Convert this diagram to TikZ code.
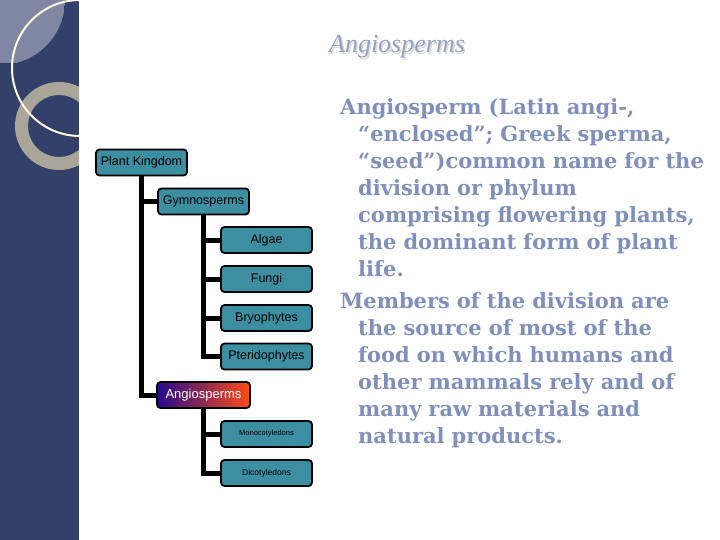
\documentclass[tikz,border=0pt]{standalone}
\usepackage{fontspec}
\usepackage{tikz}
\newfontfamily\boxfont{Liberation Sans}
\newfontfamily\titlefont{Liberation Serif}
\newfontfamily\bodyfont{DejaVu Serif}
\definecolor{barblue}{RGB}{51,65,106}
\definecolor{panelgray}{RGB}{127,135,163}
\definecolor{ringgray}{RGB}{169,165,153}
\definecolor{cream}{RGB}{255,250,225}
\definecolor{boxteal}{RGB}{60,143,160}
\definecolor{bodyblue}{RGB}{128,144,186}
\definecolor{angblue}{RGB}{35,10,140}
\definecolor{angpurple}{RGB}{150,20,130}
\definecolor{angred}{RGB}{255,75,20}
\tikzset{
  orgbox/.style={draw=black, line width=1.8pt, rounded corners=3.5pt, fill=boxteal,
    minimum width=91pt, minimum height=26pt, inner sep=1pt,
    font=\boxfont\fontsize{12.5}{14}\selectfont},
  link/.style={line width=5pt, black}
}
\begin{document}
\begin{tikzpicture}[x=1pt, y=-1pt]
\useasboundingbox (0,0) rectangle (720,540);
% left bar
\fill[barblue] (0,0) rectangle (79,540);
\begin{scope}
  \clip (0,0) rectangle (79,540);
  \begin{scope}
    \clip (0,0) circle (65pt);
    \fill[panelgray] (0,0) rectangle (65,63);
  \end{scope}
  \draw[ringgray, line width=13pt] (59,126) circle (37.5pt);
  \draw[cream, line width=2pt] (80,68) circle (68pt);
\end{scope}
% title
\node[text=black!15] at (398.5,48.5) {\titlefont\itshape\fontsize{26}{30}\selectfont Angiosperms};
\node[text=bodyblue!85] (title) at (397,47) {\titlefont\itshape\fontsize{26}{30}\selectfont Angiosperms};
% chart
\node[orgbox] (pk) at (141.5,162.5) {Plant Kingdom};
\node[orgbox] (gym) at (203.5,201.5) {Gymnosperms};
\node[orgbox] (algae) at (266.5,240) {Algae};
\node[orgbox] (fungi) at (266.5,279) {Fungi};
\node[orgbox] (bryo) at (266.5,318) {Bryophytes};
\node[orgbox] (pteri) at (266.5,356.5) {Pteridophytes};
\node[orgbox, left color=angblue, middle color=angpurple, right color=angred,
  text=white, minimum width=93pt, font=\boxfont\fontsize{13}{15}\selectfont] (angio) at (203.5,395) {Angiosperms};
\node[orgbox, font=\boxfont\fontsize{7.5}{9}\selectfont] (mono) at (266.5,434) {Monocotyledons};
\node[orgbox, font=\boxfont\fontsize{8.5}{10}\selectfont] (dico) at (266.5,473) {Dicotyledons};
\draw[link] (pk.south) |- (gym.west);
\draw[link] (pk.south) |- (angio.west);
\foreach \n in {algae,fungi,bryo,pteri}
  \draw[link] (gym.south) |- (\n.west);
\foreach \n in {mono,dico}
  \draw[link] (angio.south) |- (\n.west);
% description
\node[anchor=north west, inner sep=0pt, text width=400pt, align=left, text=bodyblue,
  font=\bodyfont\bfseries\fontsize{21}{27}\selectfont] (desc) at (340,98) {%
\leftskip=18pt\hspace*{-18pt}Angiosperm (Latin angi-,\\
“enclosed”; Greek sperma,\\
“seed”)common name for the\\
division or phylum\\
comprising flowering plants,\\
the dominant form of plant\\
life.\par\vspace{5pt}
\leftskip=18pt\hspace*{-18pt}Members of the division are\\
the source of most of the\\
food on which humans and\\
other mammals rely and of\\
many raw materials and\\
natural products.\par};
\end{tikzpicture}
\end{document}
